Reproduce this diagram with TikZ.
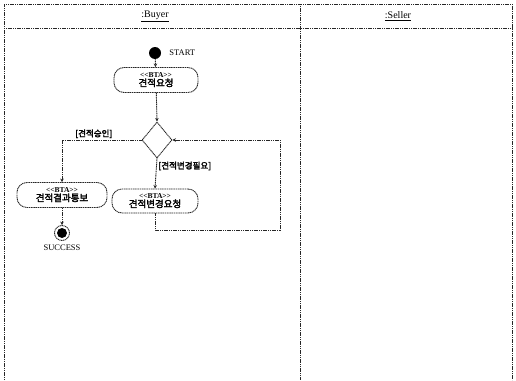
\documentclass[tikz,border=0pt]{standalone}
\usepackage{fontspec}
\setmainfont{Liberation Serif}
\newfontfamily\kor[AutoFakeBold=2.5]{Noto Sans CJK KR}
\usetikzlibrary{shapes.geometric,arrows.meta,positioning}

\newcommand{\bta}{{\bfseries\fontsize{7.5}{7.5}\selectfont \textless\kern0pt\textless BTA\textgreater\kern0pt\textgreater}}

\begin{document}
\begin{tikzpicture}[
    x=1pt,y=-1pt,
    line/.style={dash pattern=on 1.2pt off 0.6pt,line width=0.9pt,draw=black!85},
    act/.style={rectangle,rounded corners=10pt,line,
                minimum width=86pt,minimum height=25pt,inner sep=1pt,align=center,
                font=\fontsize{9.5}{8.5}\selectfont},
    choice/.style={diamond,line,minimum width=30pt,minimum height=36pt,inner sep=0pt},
    guard/.style={font=\kor\bfseries\fontsize{8.5}{9}\selectfont,inner sep=1.5pt},
    caption/.style={font=\fontsize{8.5}{9}\selectfont,inner sep=1pt},
    lane/.style={font=\fontsize{10}{10}\selectfont},
    arrow/.style={-{Stealth[length=3.5pt,width=3.5pt]},line}
]
\useasboundingbox (0,0) rectangle (516,380);
% swimlanes
\draw[line] (4,380) -- (4,4) -- (512,4) -- (512,380);
\draw[line] (4,28) -- (512,28);
\draw[line] (300,4) -- (300,380);
\node[lane] (buyer) at (155,16) {\underline{:Buyer}};
\node[lane] (seller) at (398,16) {\underline{:Seller}};

% activities
\node[circle,fill=black,minimum size=12pt,inner sep=0pt] (start) at (155,53) {};
\node[caption,right=7pt of start] (startlbl) {START};
\node[act,minimum width=84pt] (request) at (156,80) {\bta\\{\kor\bfseries 견적요청}};
\node[choice] (check) at (157,140) {};
\node[act,minimum width=90pt] (notify) at (62,195) {\bta\\{\kor\bfseries 견적결과통보}};
\node[act,minimum height=24pt] (change) at (155,201) {\bta\\{\kor\bfseries 견적변경요청}};
\node[circle,line,minimum size=15pt,inner sep=0pt] (finish) at (62,233) {};
\fill[black] (finish.center) circle (5pt);
\node[caption,below=3pt of finish] (finishlbl) {SUCCESS};
\coordinate (back) at (280,230);

\draw[arrow] (start) -- (request);
\draw[arrow] (request) -- (check.north);
\draw[arrow] (check.west) -| node[guard,above,pos=0.3] {[견적승인]} (notify.north);
\draw[arrow] (check.south) -- node[guard,right,pos=0.25] {[견적변경필요]} (change.north);
\draw[arrow] (change.south) |- (back) |- (check.east);
\draw[arrow] (notify) -- (finish);
\end{tikzpicture}
\end{document}
